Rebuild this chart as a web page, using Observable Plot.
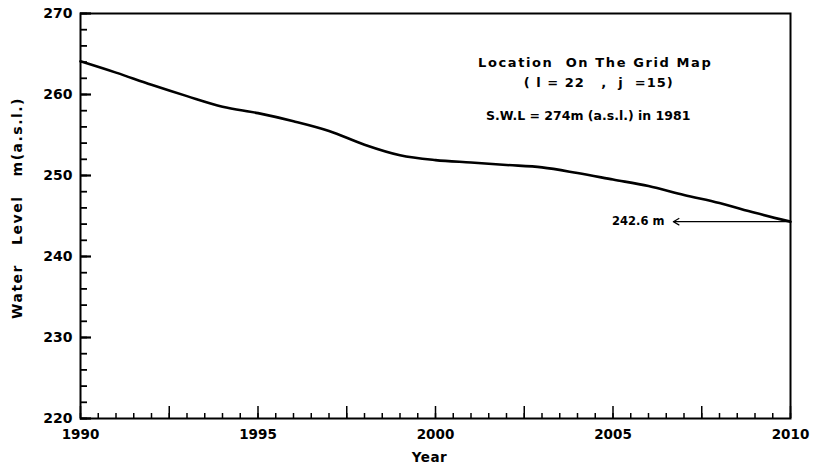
<!DOCTYPE html>
<html>
<head>
<meta charset="utf-8">
<script src="https://cdn.jsdelivr.net/npm/d3@7"></script>
<script src="https://cdn.jsdelivr.net/npm/@observablehq/plot@0.6"></script>
<style>
  html, body { margin: 0; padding: 0; background: #fff; }
  svg text { white-space: pre; }
</style>
</head>
<body>
<div id="chart"></div>
<script>
// Data
const years = [1990, 1991, 1992, 1993, 1994, 1995, 1996, 1997, 1998, 1999, 2000,
               2001, 2002, 2003, 2004, 2005, 2006, 2007, 2008, 2009, 2010];
const waterLevel = [264.1, 262.7, 261.2, 259.8, 258.5, 257.7, 256.7, 255.5, 253.8, 252.5, 251.9,
                    251.6, 251.3, 251.0, 250.3, 249.5, 248.7, 247.6, 246.6, 245.4, 244.3];
const xTickLabels = [1990, 1995, 2000, 2005, 2010];
const yTickLabels = [220, 230, 240, 250, 260, 270];
const yMinorTicks = d3.range(220, 270.01, 2);
const xMinorTicks = d3.range(1990, 2010.01, 0.5);
const xMediumTicks = d3.range(1990, 2010.01, 2.5);
const infoLines = ["Location  On The Grid Map", "( l = 22   ,  j  =15)", "S.W.L = 274m (a.s.l.) in 1981"];
const infoYears = [2004.5, 2004.6, 2004.3];
const infoLevels = [263.95, 261.5, 257.4];
const endLabel = "242.6 m";
const yTitle = "Water   Level   m(a.s.l.)";
const xTitle = "Year";

const series = years.map((y, i) => ({year: y, level: waterLevel[i]}));
const info = infoLines.map((t, i) => ({text: t, x: infoYears[i], y: infoLevels[i]}));
const last = series[series.length - 1];

const font = "'DejaVu Sans', 'Liberation Sans', sans-serif";
const plotWidth = 815 - 80 - 25;

const chart = Plot.plot({
  width: 815,
  height: 466,
  marginLeft: 80,
  marginRight: 25,
  marginTop: 13,
  marginBottom: 48,
  style: {fontFamily: font, background: "#fff", color: "#000"},
  x: {domain: [1990, 2010]},
  y: {domain: [220, 270]},
  marks: [
    // x ticks (pointing inward)
    Plot.axisX({ticks: xMinorTicks, tickSize: -5, text: null, strokeWidth: 1.5, label: null}),
    Plot.axisX({ticks: xMediumTicks, tickSize: -12, text: null, strokeWidth: 1.5, label: null}),
    Plot.axisX({ticks: xTickLabels, tickSize: 0, tickPadding: 11, tickFormat: d => String(d),
                fontSize: 13.5, fontWeight: "bold", label: null}),
    // y ticks (pointing inward)
    Plot.tickY(yMinorTicks, {y: d => d, insetRight: plotWidth - 7, stroke: "#000", strokeWidth: 1.8}),
    Plot.tickY(yTickLabels, {y: d => d, insetRight: plotWidth - 11, stroke: "#000", strokeWidth: 2.2}),
    Plot.axisY({ticks: yTickLabels, tickSize: 0, tickPadding: 8, tickFormat: d => String(d),
                fontSize: 14, fontWeight: "bold", label: null}),
    Plot.frame({stroke: "#000", strokeWidth: 2}),
    // data line
    Plot.line(series, {x: "year", y: "level", stroke: "#000", strokeWidth: 2.6, curve: "monotone-x"}),
    // end annotation arrow
    Plot.arrow([last], {x1: "year", y1: "level", x2: () => 2006.7, y2: "level",
                        stroke: "#000", strokeWidth: 1.2, headLength: 8}),
    Plot.text([last], {x: () => 2006.45, y: "level", text: () => endLabel, textAnchor: "end",
                       fontSize: 11.5, fontWeight: "bold", fill: "#000"}),
    // info block
    Plot.text(info, {x: "x", y: "y", text: "text", fontSize: d => d.text === infoLines[2] ? 12.5 : 13,
                     fontWeight: "bold", fill: "#000", textAnchor: "middle"}),
    // axis labels
    Plot.text([xTitle], {frameAnchor: "bottom", textAnchor: "middle", dx: -6, dy: 43, text: d => d,
                         fontSize: 13.5, fontWeight: "bold", fill: "#000"}),
    Plot.text([yTitle], {frameAnchor: "left", textAnchor: "middle", dx: -63, dy: -8, rotate: -90,
                         text: d => d, fontSize: 14, fontWeight: "bold", fill: "#000"})
  ]
});
document.getElementById("chart").appendChild(chart);

// letter spacing for the lettering-style texts
const spacing = new Map([[infoLines[0], "1.6px"], [infoLines[1], "1px"], [yTitle, "1.5px"], [xTitle, "0.5px"]]);
d3.select(chart).selectAll("text").each(function() {
  const s = spacing.get(this.textContent);
  if (s) this.setAttribute("letter-spacing", s);
});
</script>
</body>
</html>
